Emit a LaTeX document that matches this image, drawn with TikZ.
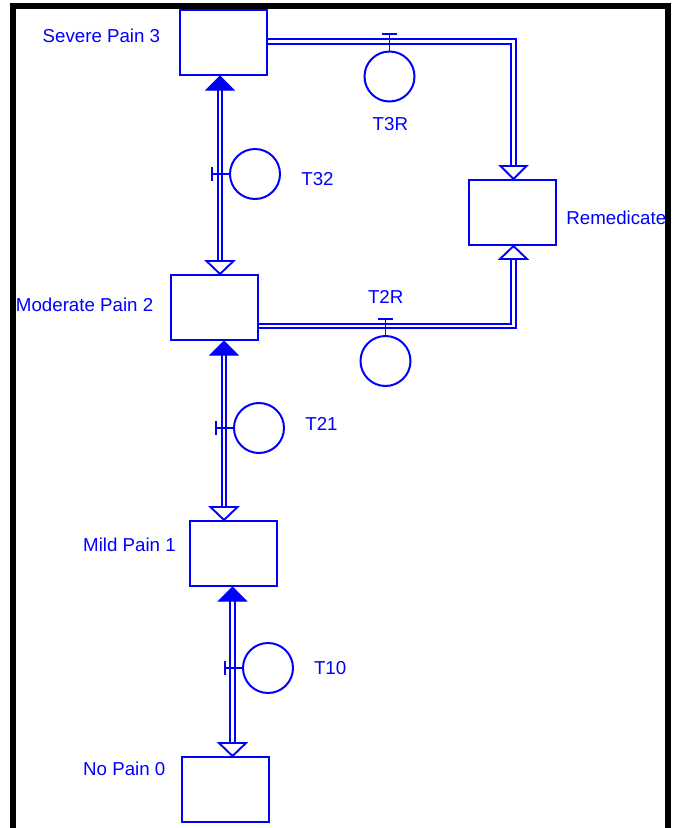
\documentclass[tikz,border=0pt]{standalone}
\usepackage{fontspec}
\setmainfont{Liberation Sans}
\begin{document}
\begin{tikzpicture}[x=1pt,y=-1pt,
  box/.style={draw=blue, line width=2pt, fill=white, minimum width=87pt, minimum height=65pt, inner sep=0pt},
  place/.style={draw=blue, line width=2pt, circle, minimum size=50pt, inner sep=0pt},
  lbl/.style={text=blue, font=\fontsize{18.7}{22}\selectfont, inner sep=0pt, anchor=base west},
  dbl/.style={draw=blue, line width=1.9pt, double=white, double distance=2.8pt},
  fhead/.style={draw=blue, fill=blue, line width=1pt, line join=miter},
  ohead/.style={draw=blue, fill=white, line width=1.9pt, line join=miter},
  tee/.style={draw=blue, line width=1.9pt},
  frame/.style={draw=black, line width=6pt, line join=miter}]
\useasboundingbox (0,0) rectangle (675,828);
% frame
\draw[frame] (12.5,840) -- (12.5,6) -- (667.5,6) -- (667.5,840);
% boxes
\node[box] (sev) at (223.5,42.5) {};
\node[box] (rem) at (512.5,212.5) {};
\node[box] (mod) at (214.5,307.5) {};
\node[box] (mild) at (233.5,553.5) {};
\node[box] (nop) at (225,789.5) {};
% transitions
\node[place] (t3r) at (389.5,76.5) {};
\node[place] (t32) at (255,174) {};
\node[place] (t2r) at (385.5,361) {};
\node[place] (t21) at (259,428) {};
\node[place] (t10) at (268,668) {};
% labels
\node[lbl] (sevl) at (42.5,42.7) {Severe Pain 3};
\node[lbl] (t3rl) at (372.5,130.7) {T3R};
\node[lbl] (t32l) at (301.2,185) {T32};
\node[lbl] (reml) at (566.2,224) {Remedicate};
\node[lbl] (modl) at (15.8,311.7) {Moderate Pain 2};
\node[lbl] (t2rl) at (367.8,303.3) {T2R};
\node[lbl] (t21l) at (305.2,430) {T21};
\node[lbl] (mildl) at (83,551.7) {Mild Pain 1};
\node[lbl] (t10l) at (313.8,674.3) {T10};
\node[lbl] (nopl) at (83,775) {No Pain 0};
% connector sev - mod
\draw[dbl] ([xshift=-3.5pt,yshift=-14pt]sev.south) -- ([xshift=5.5pt,yshift=13pt]mod.north);
\draw[fhead] ([xshift=-3.5pt]sev.south) -- ++(-14pt,-14pt) -- ++(28pt,0pt) -- cycle;
\draw[ohead] ([xshift=5.5pt]mod.north) -- ++(-13.5pt,13pt) -- ++(27pt,0pt) -- cycle;
% connector mod - mild
\draw[dbl] ([xshift=9.5pt,yshift=-14pt]mod.south) -- ([xshift=-9.5pt,yshift=13pt]mild.north);
\draw[fhead] ([xshift=9.5pt]mod.south) -- ++(-14pt,-14pt) -- ++(28pt,0pt) -- cycle;
\draw[ohead] ([xshift=-9.5pt]mild.north) -- ++(-13.5pt,13pt) -- ++(27pt,0pt) -- cycle;
% connector mild - nop
\draw[dbl] ([xshift=-1pt,yshift=-14pt]mild.south) -- ([xshift=7.5pt,yshift=13pt]nop.north);
\draw[fhead] ([xshift=-1pt]mild.south) -- ++(-14pt,-14pt) -- ++(28pt,0pt) -- cycle;
\draw[ohead] ([xshift=7.5pt]nop.north) -- ++(-13.5pt,13pt) -- ++(27pt,0pt) -- cycle;
% connector sev - rem
\draw[dbl] ([yshift=1pt]sev.east) -| ([xshift=1pt,yshift=13pt]rem.north);
\draw[ohead] ([xshift=1pt]rem.north) -- ++(-13pt,13pt) -- ++(26pt,0pt) -- cycle;
% connector mod - rem
\draw[dbl] ([yshift=-18.5pt]mod.east) -| ([xshift=1pt,yshift=-13pt]rem.south);
\draw[ohead] ([xshift=1pt]rem.south) -- ++(-13.5pt,-13pt) -- ++(27pt,0pt) -- cycle;
% tees
\draw[tee] (t32.west) -- ++(-17pt,0pt) ++(0pt,7pt) -- ++(0pt,-14pt);
\draw[tee] (t21.west) -- ++(-17pt,0pt) ++(0pt,7pt) -- ++(0pt,-14pt);
\draw[tee] (t10.west) -- ++(-17pt,0pt) ++(0pt,7pt) -- ++(0pt,-14pt);
\draw[tee] (t3r.north) -- ++(0pt,16.5pt) ++(-7.5pt,0pt) -- ++(15pt,0pt);
\draw[tee] (t2r.north) -- ++(0pt,16pt) ++(-7.5pt,0pt) -- ++(15pt,0pt);
\end{tikzpicture}
\end{document}
